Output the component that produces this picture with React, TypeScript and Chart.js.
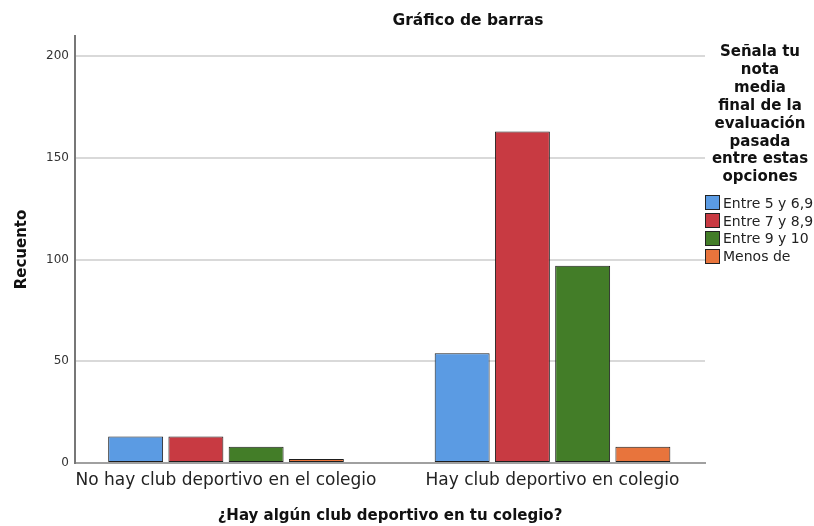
import React, { useEffect, useRef } from "react";
import { Chart, registerables } from "chart.js";

Chart.register(...registerables);

const chartTitle = "Gráfico de barras";
const xAxisTitle = "¿Hay algún club deportivo en tu colegio?";
const yAxisTitle = "Recuento";
const categories = ["No hay club deportivo en el colegio", "Hay club deportivo en colegio"];
const seriesNames = ["Entre 5 y 6,9", "Entre 7 y 8,9", "Entre 9 y 10", "Menos de"];
const entre5y69 = [13, 54];
const entre7y89 = [13, 163];
const entre9y10 = [8, 97];
const menosDe = [2, 8];
const seriesValues = [entre5y69, entre7y89, entre9y10, menosDe];
const seriesColors = ["#5b9be3", "#c83a42", "#437d28", "#e8743c"];
const yTicks = [0, 50, 100, 150, 200];
const legendTitleLines = [
  "Señala tu",
  "nota",
  "media",
  "final de la",
  "evaluación",
  "pasada",
  "entre estas",
  "opciones",
];

const FONT = "'DejaVu Sans', sans-serif";

export default function App() {
  const canvasRef = useRef<HTMLCanvasElement | null>(null);

  useEffect(() => {
    document.body.style.margin = "0";
    const canvas = canvasRef.current;
    if (!canvas) return;
    const chart = new Chart(canvas, {
      type: "bar",
      data: {
        datasets: seriesValues.map((vals, i) => ({
          label: seriesNames[i],
          data: vals.map((v, j) => ({ x: j, y: v })),
          backgroundColor: seriesColors[i],
          borderColor: "#1e1e1e",
          borderWidth: 1,
          borderSkipped: false,
          categoryPercentage: 0.738,
          barPercentage: 0.912,
        })),
      },
      options: {
        responsive: false,
        animation: false,
        layout: { padding: { left: 0, right: 109, top: 36, bottom: 0 } },
        plugins: {
          legend: { display: false },
          title: { display: false },
          tooltip: { enabled: false },
        },
        scales: {
          x: {
            type: "linear",
            offset: false,
            min: -0.4625,
            max: 1.467,
            afterBuildTicks: (s: any) => {
              s.ticks = categories.map((_, i) => ({ value: i }));
            },
            afterFit: (s: any) => {
              s.height = 63;
            },
            ticks: {
              callback: (v: any) => categories[v as number] ?? "",
              font: { family: FONT, size: 17 },
              color: "#222222",
              padding: 7,
              maxRotation: 0,
              autoSkip: false,
            },
            grid: { display: false, drawTicks: false },
            border: { display: true, color: "#a0a0a0", width: 2 },
            title: {
              display: true,
              text: xAxisTitle,
              font: { family: FONT, size: 15, weight: "bold" },
              color: "#111111",
              padding: { top: 0, bottom: 1 },
            },
          },
          y: {
            min: 0,
            max: 210,
            afterBuildTicks: (s: any) => {
              s.ticks = yTicks.map((v) => ({ value: v }));
            },
            afterFit: (s: any) => {
              s.width = 75;
            },
            ticks: {
              font: { family: FONT, size: 12 },
              color: "#333333",
              padding: 6,
            },
            grid: { color: "#d9d9d9", lineWidth: 2, drawTicks: false },
            border: { display: true, color: "#777777", width: 2 },
            title: {
              display: true,
              text: yAxisTitle,
              font: { family: FONT, size: 15, weight: "bold" },
              color: "#111111",
              padding: { top: 13, bottom: 0 },
            },
          },
        },
      },
    });
    return () => chart.destroy();
  }, []);

  return (
    <div style={{ position: "relative", width: 814, height: 526, background: "#fff" }}>
      <canvas ref={canvasRef} width={814} height={526} style={{ display: "block" }} />
      <div
        style={{
          position: "absolute",
          left: 368,
          width: 200,
          top: 11,
          textAlign: "center",
          fontFamily: FONT,
          fontWeight: "bold",
          fontSize: 15.5,
          lineHeight: "18px",
          color: "#111",
        }}
      >
        {chartTitle}
      </div>
      <div
        style={{
          position: "absolute",
          left: 706,
          width: 108,
          top: 43,
          textAlign: "center",
          fontFamily: FONT,
          fontWeight: "bold",
          fontSize: 15,
          lineHeight: "17.9px",
          color: "#111",
        }}
      >
        {legendTitleLines.map((l, i) => (
          <div key={i}>{l}</div>
        ))}
      </div>
      <div style={{ position: "absolute", left: 705, top: 194, fontFamily: FONT, fontSize: 14, color: "#222" }}>
        {seriesNames.map((n, i) => (
          <div key={i} style={{ display: "flex", alignItems: "center", height: 17.8, whiteSpace: "nowrap" }}>
            <span
              style={{
                display: "inline-block",
                width: 13,
                height: 13,
                background: seriesColors[i],
                border: "1px solid #222",
                marginRight: 3,
              }}
            />
            <span>{n}</span>
          </div>
        ))}
      </div>
    </div>
  );
}
